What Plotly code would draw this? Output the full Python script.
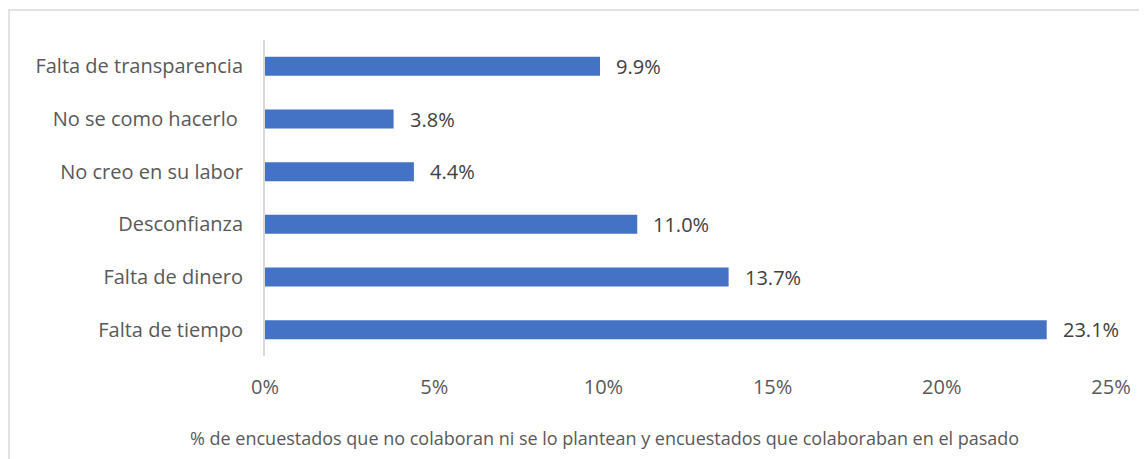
import plotly.graph_objects as go

# Data (bottom to top as drawn)
motivos = ["Falta de tiempo", "Falta de dinero", "Desconfianza",
           "No creo en su labor", "No se como hacerlo ", "Falta de transparencia"]
porcentajes = [0.231, 0.137, 0.110, 0.044, 0.038, 0.099]
x_ticks = [0, 0.05, 0.10, 0.15, 0.20, 0.25]
x_tick_labels = ["0%", "5%", "10%", "15%", "20%", "25%"]
x_title = "% de encuestados que no colaboran ni se lo plantean y encuestados que colaboraban en el pasado"

font_fam = "'Open Sans', 'Noto Sans', sans-serif"

# the page puts the figure 8px in from the top-left corner
L, T, PW, PH = 257, 32, 846, 316

fig = go.Figure()
fig.add_trace(go.Bar(
    y=motivos,
    x=porcentajes,
    orientation="h",
    marker_color="#4472C4",
    marker_line_width=0,
    hoverinfo="skip",
))

# data labels to the right of each bar
for m, p in zip(motivos, porcentajes):
    fig.add_annotation(x=p, y=m, text=f"{p*100:.1f}%", showarrow=False,
                       xanchor="left", xshift=14,
                       font=dict(size=20, color="#404040", family=font_fam))

# axis title, centred on the whole chart box rather than the plot area
fig.add_annotation(xref="paper", yref="paper",
                   x=(596 - L) / PW, y=1 - (430 - T) / PH,
                   text=x_title, showarrow=False, xanchor="center", yanchor="middle",
                   font=dict(size=18, color="#595959", family=font_fam))

# outer chart border (runs off the right and bottom of the picture)
fig.add_shape(type="rect", xref="paper", yref="paper",
              x0=(1 - L) / PW, x1=1.2, y0=-0.6, y1=1 + (T - 2) / PH,
              line=dict(color="#d9d9d9", width=1.5), fillcolor="rgba(0,0,0,0)",
              layer="below")

fig.update_layout(
    width=1147, height=459,
    margin=dict(l=L, r=1147 - L - PW, t=T, b=459 - T - PH),
    paper_bgcolor="white", plot_bgcolor="white",
    bargap=0.64,
    showlegend=False,
    font=dict(family=font_fam, color="#595959", size=20),
)
fig.update_xaxes(
    range=[0, 0.25], tickvals=x_ticks, ticktext=x_tick_labels,
    showgrid=False, zeroline=False, showline=False,
    ticks="outside", ticklen=13, tickcolor="rgba(0,0,0,0)",
    tickfont=dict(size=20, color="#595959"),
    fixedrange=True,
)
fig.update_yaxes(
    showgrid=False, zeroline=False,
    showline=True, linecolor="#d9d9d9", linewidth=2,
    ticks="outside", ticklen=16, tickcolor="rgba(0,0,0,0)",
    tickfont=dict(size=20, color="#595959"),
    fixedrange=True,
)

fig.write_html("out.html")
